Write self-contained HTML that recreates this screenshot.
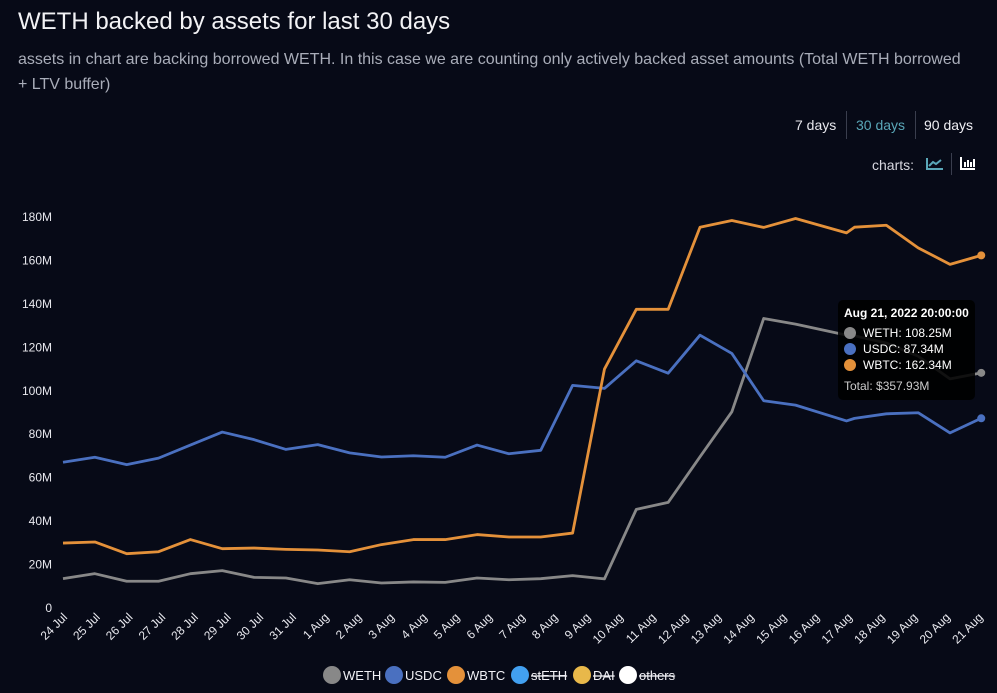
<!DOCTYPE html>
<html><head><meta charset="utf-8"><style>
html,body{margin:0;padding:0;background:#070a17;width:997px;height:693px;overflow:hidden;font-family:"Liberation Sans",sans-serif;}
</style></head><body>
<div style="position:absolute;left:18px;top:8px;font-size:24px;color:#f2f2f5;">WETH backed by assets for last 30 days</div>
<div style="position:absolute;left:18px;top:47px;width:975px;font-size:16px;line-height:25px;color:#a9adb9;white-space:nowrap;">assets in chart are backing borrowed WETH. In this case we are counting only actively backed asset amounts (Total WETH borrowed<br>+ LTV buffer)</div>
<div style="position:absolute;top:110px;left:780px;width:200px;height:30px;font-size:14px;">
 <span style="position:absolute;left:15px;top:7px;color:#e8e8ee;">7 days</span>
 <span style="position:absolute;left:66px;top:1px;width:1px;height:28px;background:#3a3e4e"></span>
 <span style="position:absolute;left:76px;top:7px;color:#5aa7b8;">30 days</span>
 <span style="position:absolute;left:135px;top:1px;width:1px;height:28px;background:#3a3e4e"></span>
 <span style="position:absolute;left:144px;top:7px;color:#f0f0f5;">90 days</span>
</div>
<div style="position:absolute;left:872px;top:157px;font-size:14px;color:#d8d8e0;">charts:</div>
<svg style="position:absolute;left:926px;top:157px" width="18" height="14"><path d="M1 1V12H17" stroke="#5aa7b8" stroke-width="2" fill="none"/><path d="M3 9L7 5L10 7L15 3" stroke="#5aa7b8" stroke-width="2" fill="none"/></svg>
<span style="position:absolute;left:951px;top:153px;width:1px;height:22px;background:#3a3e4e"></span>
<svg style="position:absolute;left:960px;top:156px" width="16" height="14"><path d="M1 1V13H15" stroke="#fff" stroke-width="2" fill="none"/><path d="M5 11V6M8 11V4M11 11V6M14 11V3" stroke="#fff" stroke-width="2"/></svg>
<svg id="chart" width="997" height="693" style="position:absolute;left:0;top:0;pointer-events:none"></svg>
<div style="position:absolute;left:838px;top:300px;width:137px;height:100px;background:rgba(0,0,0,0.88);border-radius:5px;font-size:12px;color:#fff;">
 <div style="position:absolute;left:6px;top:6px;font-weight:bold;">Aug 21, 2022 20:00:00</div>
 <div style="position:absolute;left:6px;top:26px;"><span style="display:inline-block;width:12px;height:12px;border-radius:6px;background:#888;vertical-align:-2px;margin-right:7px"></span>WETH: 108.25M</div>
 <div style="position:absolute;left:6px;top:42px;"><span style="display:inline-block;width:12px;height:12px;border-radius:6px;background:#4a70c0;vertical-align:-2px;margin-right:7px"></span>USDC: 87.34M</div>
 <div style="position:absolute;left:6px;top:58px;"><span style="display:inline-block;width:12px;height:12px;border-radius:6px;background:#e4913a;vertical-align:-2px;margin-right:7px"></span>WBTC: 162.34M</div>
 <div style="position:absolute;left:6px;top:79px;color:#ccc;">Total: $357.93M</div>
</div>
<script>
const times=[0,1,2,3,4,5,6,7,8,9,10,11,12,13,14,15,16,17,18,19,20,21,22,23,24.6,24.85,25.85,26.85,27.85,28.83];
const weth=[13.5,15.8,12.3,12.3,15.8,17.2,14.1,13.8,11.2,13,11.5,12,11.8,13.8,13,13.5,14.9,13.4,45.4,48.6,69.6,90.3,133.3,130.7,125.6,125.3,122,115.9,105.5,108.25];
const usdc=[67.1,69.4,66,69,75,81,77.5,73,75.2,71.4,69.5,70.1,69.4,75,71,72.6,102.5,101.1,113.8,108.1,125.6,117.2,95.4,93.4,86.1,87.3,89.4,89.9,80.6,87.34];
const wbtc=[29.9,30.4,25,25.9,31.5,27.3,27.6,27,26.7,25.9,29.2,31.5,31.5,33.8,32.7,32.7,34.5,110,137.5,137.5,175.3,178.4,175.2,179.3,172.7,175.3,176.2,165.8,158.2,162.34];
const yTicks=[0,20,40,60,80,100,120,140,160,180];
const xLabels=["24 Jul","25 Jul","26 Jul","27 Jul","28 Jul","29 Jul","30 Jul","31 Jul","1 Aug","2 Aug","3 Aug","4 Aug","5 Aug","6 Aug","7 Aug","8 Aug","9 Aug","10 Aug","11 Aug","12 Aug","13 Aug","14 Aug","15 Aug","16 Aug","17 Aug","18 Aug","19 Aug","20 Aug","21 Aug"];
const legendNames=["WETH","USDC","WBTC","stETH","DAI","others"];
const legendColors=["#888888","#4a70c0","#e4913a","#42a0f0","#e8b84a","#ffffff"];
const legendHidden=[false,false,false,true,true,true];
const svg=document.getElementById('chart');
const NS='http://www.w3.org/2000/svg';
const xS=t=>63+t*31.85;
const yS=v=>608-v*391/180;
function mk(tag,attrs){const e=document.createElementNS(NS,tag);for(const k in attrs)e.setAttribute(k,attrs[k]);svg.appendChild(e);return e;}
yTicks.forEach(v=>{const t=mk('text',{x:52,y:yS(v)+4,'text-anchor':'end','font-size':12,fill:'#e8e8ee'});t.textContent=v===0?'0':v+'M';

});
xLabels.forEach((l,i)=>{const x=68+i*32.7,y=618;const t=mk('text',{x:x,y:y,'text-anchor':'end','font-size':12,fill:'#e8e8ee',transform:'rotate(-45 '+x+' '+y+')'});t.textContent=l;

});
[[weth,'#888888','weth'],[usdc,'#4a70c0','usdc'],[wbtc,'#e4913a','wbtc']].forEach(([d,c,n])=>{
const p=mk('polyline',{points:d.map((v,i)=>xS(times[i])+','+yS(v)).join(' '),fill:'none',stroke:c,'stroke-width':2.8,'stroke-linejoin':'round'});


const last=d.length-1;
const dot=mk('circle',{cx:xS(times[last]),cy:yS(d[last]),r:4,fill:c});

});
const lx=[332,394,456,520,582,628];
legendNames.forEach((n,i)=>{const c=mk('circle',{cx:lx[i],cy:675,r:9,fill:legendColors[i]});


const t=mk('text',{x:lx[i]+11,y:680,'font-size':13,fill:'#f0f0f5','text-decoration':legendHidden[i]?'line-through':'none'});t.textContent=n;

});
</script>
</body></html>
